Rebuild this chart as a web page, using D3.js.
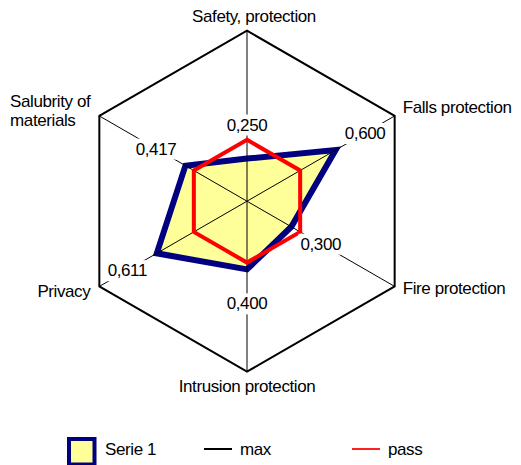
<!DOCTYPE html>
<html>
<head>
<meta charset="utf-8">
<script src="https://cdn.jsdelivr.net/npm/d3@7"></script>
<style>
	body { margin: 0; background: #fff; }
	text { font-family: "Liberation Sans", Arial, sans-serif; font-size: 17px; letter-spacing: -0.4px; fill: #000; }
</style>
</head>
<body>
<svg id="chart" width="521" height="465"></svg>
<script>

// Data

var axes = ["Safety, protection", "Falls protection", "Fire protection", "Intrusion protection", "Privacy", "Salubrity of\nmaterials"];
var serie1 = [0.250, 0.600, 0.300, 0.400, 0.611, 0.417];
var maxValues = [1, 1, 1, 1, 1, 1];
var passValues = [0.36, 0.36, 0.36, 0.36, 0.36, 0.36];
var legendNames = ["Serie 1", "max", "pass"];

// Layout

var svg = d3.select("#chart");
var cx = 247, cy = 201.2;

var r = d3.scaleLinear().domain([0, 1]).range([0, 170.5]);
var angle = d3.scaleLinear().domain([0, axes.length]).range([0, 2 * Math.PI]);

var fmt = d3.formatLocale({decimal: ",", thousands: ".", grouping: [3], currency: ["", ""]}).format(".3f");

var point = function (i, v) {
	var a = angle(i);
	return [cx + r(v) * Math.sin(a), cy - r(v) * Math.cos(a)];
};

var radar = d3.lineRadial()
	.angle(function (d, i) { return angle(i); })
	.radius(function (d) { return r(d); })
	.curve(d3.curveLinearClosed);

var g = svg.append("g").attr("transform", "translate(" + cx + "," + cy + ")");

// Serie 1 area
g.append("path")
	.attr("d", radar(serie1))
	.style("fill", "#ffff99")
	.style("stroke", "#000080")
	.style("stroke-width", 6)
	.style("stroke-linejoin", "miter");

// Spokes
g.selectAll("line.spoke")
	.data(axes)
	.enter().append("line")
	.attr("class", "spoke")
	.attr("x1", 0).attr("y1", 0)
	.attr("x2", function (d, i) { return r(1) * Math.sin(angle(i)); })
	.attr("y2", function (d, i) { return -r(1) * Math.cos(angle(i)); })
	.style("stroke", "#000")
	.style("stroke-width", 1);

// max
g.append("path")
	.attr("d", radar(maxValues))
	.style("fill", "none")
	.style("stroke", "#000")
	.style("stroke-width", 2);

// pass
g.append("path")
	.attr("d", radar(passValues))
	.style("fill", "none")
	.style("stroke", "#ff0000")
	.style("stroke-width", 4);

// Data labels with white background

var labels = svg.selectAll("g.dlabel")
	.data(serie1)
	.enter().append("g")
	.attr("class", "dlabel");

labels.append("text")
	.attr("x", function (d, i) { return cx + (r(d) + 34) * Math.sin(angle(i)); })
	.attr("y", function (d, i) { return cy - (r(d) + 34) * Math.cos(angle(i)); })
	.attr("dy", "0.35em")
	.attr("text-anchor", "middle")
	.text(function (d) { return fmt(d); });

labels.each(function () {
	var grp = d3.select(this);
	var b = grp.select("text").node().getBBox();
	grp.insert("rect", "text")
		.attr("x", b.x - 2)
		.attr("y", b.y - 1)
		.attr("width", b.width + 4)
		.attr("height", b.height + 2)
		.style("fill", "#fff");
});

// Axis labels

var axisLabels = svg.selectAll("text.axis")
	.data(axes)
	.enter().append("text")
	.attr("class", "axis");

axisLabels.each(function (d, i) {
	var t = d3.select(this);
	var p = point(i, 1);
	var lines = d.split("\n");
	lines.forEach(function (line, k) {
		t.append("tspan").attr("dy", k == 0 ? 0 : 19).text(line);
	});
	var sx = Math.sin(angle(i)), sy = -Math.cos(angle(i));
	var x, y, anchor = "start";
	if (Math.abs(sx) < 0.01) {
		anchor = "middle";
		x = p[0] + (sy < 0 ? 7 : 0);
		y = sy < 0 ? p[1] - 9 : p[1] + 20;
	} else if (sx > 0) {
		x = p[0] + 8;
		y = sy < 0 ? p[1] - 3 : p[1] + 7.5;
	} else {
		anchor = "end";
		x = p[0] - 9;
		y = sy < 0 ? p[1] - 9 : p[1] + 10.5;
	}
	t.attr("text-anchor", anchor).attr("y", y);
	if (lines.length > 1) {
		// left aligned block that ends next to the vertex
		var w = d3.max(t.selectAll("tspan").nodes(), function (n) { return n.getComputedTextLength(); });
		t.attr("text-anchor", "start");
		t.selectAll("tspan").attr("x", x - w);
	} else {
		t.selectAll("tspan").attr("x", x);
	}
});

// Legend

var legendX = [69, 204, 352];
var legendY = 449;

var legend = svg.selectAll("g.legend")
	.data(legendNames)
	.enter().append("g")
	.attr("class", "legend")
	.attr("transform", function (d, i) { return "translate(" + legendX[i] + "," + legendY + ")"; });

legend.filter(function (d, i) { return i == 0; })
	.append("rect")
	.attr("x", 0).attr("y", -10)
	.attr("width", 25.5).attr("height", 25.5)
	.style("fill", "#ffff99")
	.style("stroke", "#000080")
	.style("stroke-width", 4);

legend.filter(function (d, i) { return i > 0; })
	.append("line")
	.attr("x1", 0).attr("x2", 28)
	.attr("y1", 0).attr("y2", 0)
	.style("stroke", function (d, i) { return i == 0 ? "#000" : "#ff2020"; })
	.style("stroke-width", 2);

legend.append("text")
	.attr("x", 36)
	.attr("y", 6)
	.text(function (d) { return d; });

</script>
</body>
</html>
